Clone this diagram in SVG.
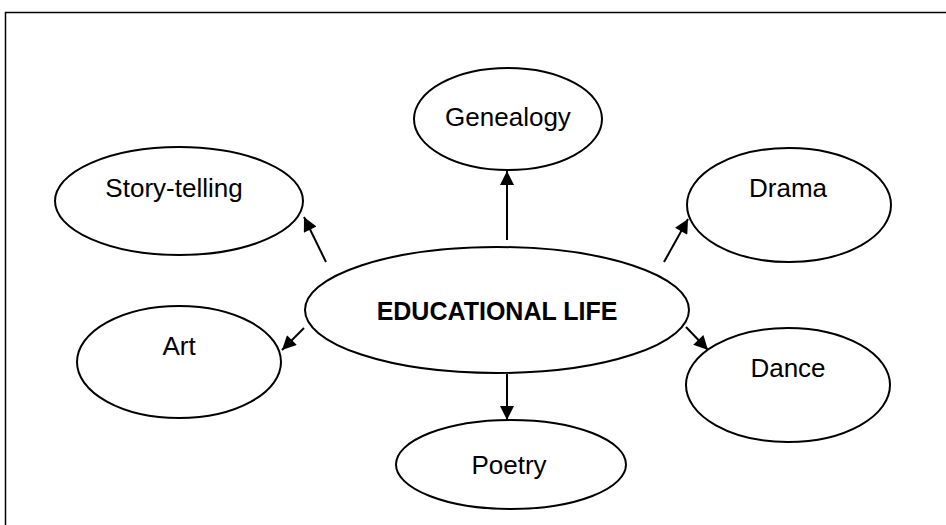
<svg xmlns="http://www.w3.org/2000/svg" width="946" height="525" viewBox="0 0 946 525">
<style>
.node ellipse{fill:#fff;stroke:#000;stroke-width:2}
.node text{font-family:"Liberation Sans",Arial,sans-serif;font-size:26px;text-anchor:middle;fill:#000}
.main text{font-weight:bold;font-size:25px}
.conn line{stroke:#000;stroke-width:2}
</style>
<defs>
<marker id="ah" viewBox="0 0 10 10" refX="10" refY="5" markerWidth="16" markerHeight="14" markerUnits="userSpaceOnUse" orient="auto">
<path d="M0,0 L10,5 L0,10 z" fill="#000"/>
</marker>
</defs>
<rect x="0" y="0" width="946" height="525" fill="#fff"/>
<rect x="5.5" y="12.5" width="960" height="540" fill="none" stroke="#000" stroke-width="1.5"/>
<g id="genealogy" class="node">
<ellipse cx="508" cy="119" rx="94" ry="51"/>
<text x="508" y="126">Genealogy</text>
</g>
<g id="storytelling" class="node">
<ellipse cx="179" cy="201" rx="124" ry="54"/>
<text x="174" y="197">Story-telling</text>
</g>
<g id="drama" class="node">
<ellipse cx="789" cy="205" rx="102" ry="57"/>
<text x="788" y="197">Drama</text>
</g>
<g id="educational" class="node main">
<ellipse cx="497" cy="310" rx="192" ry="63"/>
<text x="497" y="320">EDUCATIONAL LIFE</text>
</g>
<g id="art" class="node">
<ellipse cx="179" cy="362" rx="102" ry="56"/>
<text x="179" y="355">Art</text>
</g>
<g id="dance" class="node">
<ellipse cx="788" cy="385" rx="102" ry="57"/>
<text x="788" y="377">Dance</text>
</g>
<g id="poetry" class="node">
<ellipse cx="511" cy="464.5" rx="115" ry="44.5"/>
<text x="509" y="474">Poetry</text>
</g>
<g id="connectors" class="conn">
<line x1="507" y1="240" x2="507" y2="171" marker-end="url(#ah)"/>
<line x1="326" y1="262" x2="304" y2="217" marker-end="url(#ah)"/>
<line x1="664" y1="262" x2="688" y2="219" marker-end="url(#ah)"/>
<line x1="304" y1="328" x2="282" y2="350" marker-end="url(#ah)"/>
<line x1="686" y1="327" x2="708" y2="350" marker-end="url(#ah)"/>
<line x1="507" y1="374" x2="507" y2="420" marker-end="url(#ah)"/>
</g>
</svg>
